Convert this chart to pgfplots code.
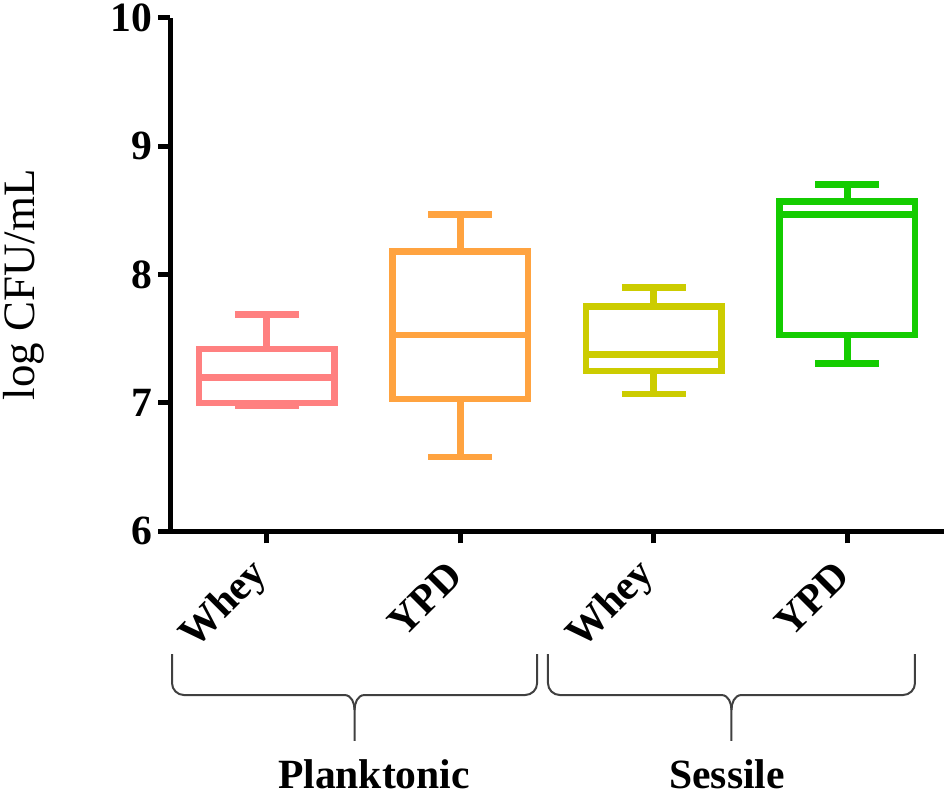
\documentclass[border=0pt]{standalone}
\usepackage{fontspec}
\setmainfont{Liberation Serif}
\usepackage{pgfplots}
\pgfplotsset{compat=1.18}
\definecolor{pinkc}{RGB}{255,128,128}
\definecolor{orangec}{RGB}{255,163,64}
\definecolor{olivec}{RGB}{204,204,0}
\definecolor{greenc}{RGB}{20,204,0}
\begin{document}
\begin{tikzpicture}
\begin{axis}[
  scale only axis,
  width=232.5pt, height=154.2pt,
  xmin=0.5, xmax=4.5, ymin=6, ymax=10,
  axis lines=left,
  axis line style={-, line width=1.5pt, black},
  xtick={1,2,3,4},
  xticklabels={Whey,YPD,Whey,YPD},
  ytick={6,7,8,9,10},
  tick align=outside,
  major tick length=3.6pt,
  tick style={line width=1.5pt, black},
  /pgf/number format/assume math mode=true,
  ticklabel style={font=\bfseries\fontsize{12.5}{13}\selectfont},
  xticklabel style={rotate=45, anchor=east, inner sep=2pt},
  xticklabel shift=6pt,
  yticklabel style={inner sep=1.5pt},
  clip=false,
  every axis plot/.append style={line width=2pt, line join=miter, no markers},
]
% ---- Planktonic Whey: lw 6.98, q1 7.00, med 7.20, q3 7.42, uw 7.69
\addplot[pinkc] coordinates {(0.65,7.00) (1.35,7.00) (1.35,7.42) (0.65,7.42)} --cycle;
\addplot[pinkc] coordinates {(0.65,7.20) (1.35,7.20)};
\addplot[pinkc] coordinates {(1,7.42) (1,7.69)};
\addplot[pinkc] coordinates {(0.835,7.69) (1.165,7.69)};
\addplot[pinkc] coordinates {(1,7.00) (1,6.98)};
\addplot[pinkc] coordinates {(0.835,6.98) (1.165,6.98)};
% ---- Planktonic YPD: lw 6.58, q1 7.03, med 7.53, q3 8.18, uw 8.47
\addplot[orangec] coordinates {(1.65,7.03) (2.35,7.03) (2.35,8.18) (1.65,8.18)} --cycle;
\addplot[orangec] coordinates {(1.65,7.53) (2.35,7.53)};
\addplot[orangec] coordinates {(2,8.18) (2,8.47)};
\addplot[orangec] coordinates {(1.835,8.47) (2.165,8.47)};
\addplot[orangec] coordinates {(2,7.03) (2,6.58)};
\addplot[orangec] coordinates {(1.835,6.58) (2.165,6.58)};
% ---- Sessile Whey: lw 7.07, q1 7.25, med 7.38, q3 7.75, uw 7.90
\addplot[olivec] coordinates {(2.65,7.25) (3.35,7.25) (3.35,7.75) (2.65,7.75)} --cycle;
\addplot[olivec] coordinates {(2.65,7.38) (3.35,7.38)};
\addplot[olivec] coordinates {(3,7.75) (3,7.90)};
\addplot[olivec] coordinates {(2.835,7.90) (3.165,7.90)};
\addplot[olivec] coordinates {(3,7.25) (3,7.07)};
\addplot[olivec] coordinates {(2.835,7.07) (3.165,7.07)};
% ---- Sessile YPD: lw 7.31, q1 7.53, med 8.47, q3 8.57, uw 8.70
\addplot[greenc] coordinates {(3.65,7.53) (4.35,7.53) (4.35,8.57) (3.65,8.57)} --cycle;
\addplot[greenc] coordinates {(3.65,8.47) (4.35,8.47)};
\addplot[greenc] coordinates {(4,8.57) (4,8.70)};
\addplot[greenc] coordinates {(3.835,8.70) (4.165,8.70)};
\addplot[greenc] coordinates {(4,7.53) (4,7.31)};
\addplot[greenc] coordinates {(3.835,7.31) (4.165,7.31)};
% braces
\draw[line width=0.6pt, black!75]
  (axis cs:0.51,5.043) -- (axis cs:0.51,4.817) to[out=-90,in=180] (axis cs:0.572,4.724)
  -- (axis cs:1.4015,4.724) to[out=0,in=90] (axis cs:1.4535,4.607) -- (axis cs:1.4535,4.366);
\draw[line width=0.6pt, black!75]
  (axis cs:1.4535,4.607) to[out=90,in=180] (axis cs:1.5055,4.724)
  -- (axis cs:2.335,4.724) to[out=0,in=-90] (axis cs:2.397,4.817) -- (axis cs:2.397,5.043);
\draw[line width=0.6pt, black!75]
  (axis cs:2.453,5.043) -- (axis cs:2.453,4.817) to[out=-90,in=180] (axis cs:2.515,4.724)
  -- (axis cs:3.3495,4.724) to[out=0,in=90] (axis cs:3.4015,4.607) -- (axis cs:3.4015,4.366);
\draw[line width=0.6pt, black!75]
  (axis cs:3.4015,4.607) to[out=90,in=180] (axis cs:3.4535,4.724)
  -- (axis cs:4.288,4.724) to[out=0,in=-90] (axis cs:4.35,4.817) -- (axis cs:4.35,5.043);
\node[font=\bfseries\fontsize{12.5}{13}\selectfont] at (axis cs:1.554,4.109) {Planktonic};
\node[font=\bfseries\fontsize{12.5}{13}\selectfont] at (axis cs:3.379,4.109) {Sessile};
\node[rotate=90, font=\fontsize{13.5}{14}\selectfont] at (axis cs:-0.2545,7.92) {log CFU/mL};
\coordinate (bbA) at (axis cs:-0.379,3.946);
\coordinate (bbB) at (axis cs:4.531,10.14);
\end{axis}
\pgfresetboundingbox
\path (bbA) rectangle (bbB);
\end{tikzpicture}
\end{document}
